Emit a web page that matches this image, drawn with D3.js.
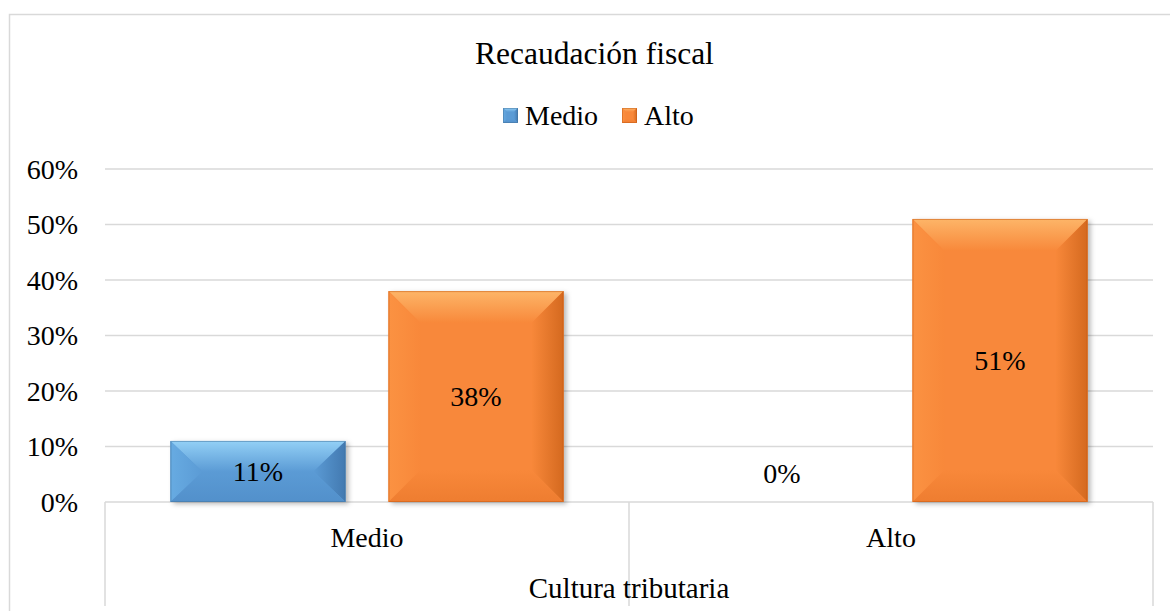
<html lang="en">
<head>
<style>
body { margin: 0; background: #fff; }
</style>
</head>
<body>
<script src="https://d3js.org/d3.v7.min.js"></script>
<script>
// data
const categories = ["Medio", "Alto"];
const seriesNames = ["Medio", "Alto"];
const medioValues = [0.11, 0];
const altoValues = [0.38, 0.51];
const yTicks = [0, 0.1, 0.2, 0.3, 0.4, 0.5, 0.6];

const FONT = "'Liberation Serif', 'Times New Roman', serif";

const colors = {
  Medio: {base: "#5b9bd5", top: "#93d0f6", left: "#67abe2", right: "#4279b0", bottom: "#5290cb", edge: "#41719c"},
  Alto: {base: "#f8883a", top: "#fdb568", left: "#fb9242", right: "#d4691f", bottom: "#ee7d30", edge: "#c55a11"}
};

const W = 1170, H = 611;
const plot = {left: 105, right: 1153, top: 169, bottom: 502};

const svg = d3.select("body").append("svg")
  .attr("width", W).attr("height", H)
  .style("font-family", FONT);

const defs = svg.append("defs");
defs.append("filter").attr("id", "shadow")
  .attr("x", "-10%").attr("y", "-10%").attr("width", "130%").attr("height", "130%")
  .append("feDropShadow")
  .attr("dx", 3).attr("dy", 2).attr("stdDeviation", 2.5)
  .attr("flood-color", "#000").attr("flood-opacity", 0.28);

function grad(id, vertical, from, to) {
  const g = defs.append("linearGradient").attr("id", id)
    .attr("x1", 0).attr("y1", 0).attr("x2", vertical ? 0 : 1).attr("y2", vertical ? 1 : 0);
  g.append("stop").attr("offset", "0%").attr("stop-color", from);
  g.append("stop").attr("offset", "100%").attr("stop-color", to);
}
Object.entries(colors).forEach(([k, c]) => {
  grad("top-" + k, true, c.top, c.base);
  grad("left-" + k, false, c.left, c.base);
  grad("right-" + k, false, c.base, c.right);
  grad("bottom-" + k, true, c.base, c.bottom);
});

// outer frame
svg.append("rect")
  .attr("x", 9.5).attr("y", 14.5).attr("width", W + 10).attr("height", H)
  .attr("fill", "none").attr("stroke", "#d9d9d9").attr("stroke-width", 1.5);

const x0 = d3.scaleBand().domain(categories).range([plot.left, plot.right]).paddingInner(0).paddingOuter(0);
const x1 = d3.scaleBand().domain(seriesNames).range([0, x0.bandwidth()]).paddingInner(0.197).paddingOuter(0.3);
const y = d3.scaleLinear().domain([0, 0.6]).range([plot.bottom, plot.top]);

// gridlines
svg.append("g").selectAll("line").data(yTicks.filter(d => d > 0)).join("line")
  .attr("x1", plot.left).attr("x2", plot.right)
  .attr("y1", d => y(d)).attr("y2", d => y(d))
  .attr("stroke", "#d9d9d9").attr("stroke-width", 1.5);

// y axis labels
const yAxis = d3.axisLeft(y).tickValues(yTicks).tickFormat(d3.format(".0%")).tickSize(0).tickPadding(0);
const yg = svg.append("g").attr("transform", "translate(78,0)").call(yAxis);
yg.attr("font-family", null).attr("font-size", null);
yg.select(".domain").remove();
yg.selectAll("text").attr("font-size", 28).attr("fill", "#000").attr("dy", "0.33em");

// table-style category axis
const axisBox = svg.append("g");
axisBox.append("line").attr("x1", plot.left).attr("x2", plot.right)
  .attr("y1", plot.bottom).attr("y2", plot.bottom).attr("stroke", "#d9d9d9").attr("stroke-width", 1.5);
const edges = [plot.left, ...categories.slice(1).map(c => x0(c)), plot.right];
axisBox.selectAll("line.v").data(edges).join("line").attr("class", "v")
  .attr("x1", d => d).attr("x2", d => d)
  .attr("y1", plot.bottom).attr("y2", 606)
  .attr("stroke", "#d9d9d9").attr("stroke-width", 1.5);

const xAxis = d3.axisBottom(x0).tickSize(0).tickPadding(0);
const xg = svg.append("g").attr("transform", "translate(0," + 547 + ")").call(xAxis);
xg.attr("font-family", null).attr("font-size", null);
xg.select(".domain").remove();
xg.selectAll("text").attr("font-size", 28).attr("fill", "#000").attr("dy", 0);

svg.append("text").attr("x", (plot.left + plot.right) / 2).attr("y", 598)
  .attr("text-anchor", "middle").attr("font-size", 29).text("Cultura tributaria");

// title
svg.append("text").attr("x", 594.5).attr("y", 64)
  .attr("text-anchor", "middle").attr("font-size", 31.5).text("Recaudación fiscal");

// bevelled bar drawing
function bevel(g, bx, by, bw, bh, key, b, shadow) {
  const c = colors[key];
  const v = Math.min(b, bh / 2), h = Math.min(b, bw / 2);
  const x2 = bx + bw, y2 = by + bh;
  const r = g.append("rect").attr("x", bx).attr("y", by).attr("width", bw).attr("height", bh)
    .attr("fill", c.base);
  if (shadow) r.attr("filter", "url(#shadow)");
  const facet = (pts, fill) => g.append("polygon").attr("points", pts.map(p => p.join(",")).join(" ")).attr("fill", fill);
  facet([[bx, by], [x2, by], [x2 - h, by + v], [bx + h, by + v]], "url(#top-" + key + ")");
  facet([[bx, by], [bx + h, by + v], [bx + h, y2 - v], [bx, y2]], "url(#left-" + key + ")");
  facet([[x2, by], [x2, y2], [x2 - h, y2 - v], [x2 - h, by + v]], "url(#right-" + key + ")");
  facet([[bx, y2], [bx + h, y2 - v], [x2 - h, y2 - v], [x2, y2]], "url(#bottom-" + key + ")");
  g.append("rect").attr("x", bx + 0.5).attr("y", by + 0.5).attr("width", bw - 1).attr("height", bh - 1)
    .attr("fill", "none").attr("stroke", c.edge).attr("stroke-opacity", 0.5);
}

const rows = categories.map((cat, i) => ({cat, values: [
  {name: "Medio", value: medioValues[i]},
  {name: "Alto", value: altoValues[i]}
]}));

rows.forEach(r => {
  r.values.forEach(d => {
    const bx = x0(r.cat) + x1(d.name);
    const bw = x1.bandwidth();
    const by = y(d.value);
    const bh = y(0) - y(d.value);
    const g = svg.append("g");
    if (bh > 0) bevel(g, bx, by, bw, bh, d.name, 32, true);
    const ly = d.value > 0 ? (by + y(0)) / 2 : y(0) - 28.5;
    svg.append("text").attr("x", bx + bw / 2).attr("y", ly)
      .attr("dy", "0.34em").attr("text-anchor", "middle").attr("font-size", 28)
      .text(d3.format(".0%")(d.value));
  });
});

// legend
const legend = svg.append("g");
const legendItems = [{name: "Medio", x: 503}, {name: "Alto", x: 622}];
legendItems.forEach(it => {
  const g = legend.append("g");
  bevel(g, it.x, 108, 15, 15, it.name, 4, false);
  legend.append("text").attr("x", it.x + 22).attr("y", 125).attr("font-size", 28).text(it.name);
});
</script>
</body>
</html>
